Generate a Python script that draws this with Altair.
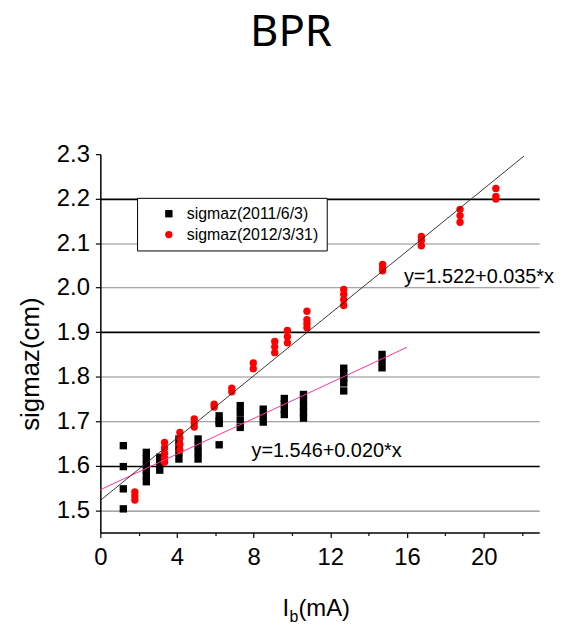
import altair as alt
import pandas as pd

FONT = "Liberation Sans"

chart_title = "BPR"
x_title_main = "I"
x_title_sub = "b"
x_title_unit = "(mA)"
y_title = "sigmaz(cm)"

series_names = ["sigmaz(2011/6/3)", "sigmaz(2012/3/31)"]
series_colors = ["#000000", "#ff0000"]
series_shapes = ["square", "circle"]

# series 1 (2011/6/3): beam current (mA) and measured sigmaz values at each current
s1_current = [1.2, 2.4, 3.1, 4.1, 5.1, 6.2, 7.3, 8.5, 9.6, 10.6, 12.7, 14.7]
s1_sigmaz = [
    [1.645, 1.598, 1.548, 1.503],
    [1.630, 1.616, 1.602, 1.590, 1.577, 1.564],
    [1.619, 1.605, 1.590],
    [1.660, 1.645, 1.630, 1.615],
    [1.660, 1.645, 1.630, 1.615],
    [1.712, 1.700, 1.695, 1.647],
    [1.735, 1.720, 1.703, 1.686],
    [1.727, 1.712, 1.698],
    [1.751, 1.739, 1.727, 1.715],
    [1.760, 1.747, 1.733, 1.720, 1.707],
    [1.819, 1.808, 1.797, 1.786, 1.768],
    [1.850, 1.835, 1.820],
]

# series 2 (2012/3/31)
s2_current = [1.8, 3.35, 4.15, 4.9, 5.94, 6.86, 7.98, 9.1, 9.76, 10.78, 12.7, 14.73, 16.75, 18.77, 20.64]
s2_sigmaz = [
    [1.541, 1.532, 1.523],
    [1.652, 1.640, 1.628, 1.617, 1.608],
    [1.675, 1.662, 1.648, 1.635],
    [1.705, 1.696, 1.687],
    [1.738, 1.732],
    [1.774, 1.766],
    [1.831, 1.818],
    [1.879, 1.867, 1.854],
    [1.904, 1.890, 1.876],
    [1.947, 1.928, 1.919, 1.910],
    [1.996, 1.985, 1.973, 1.960],
    [2.052, 2.045, 2.038],
    [2.115, 2.106, 2.094],
    [2.176, 2.162, 2.147],
    [2.223, 2.205, 2.199],
]

# linear fits printed on the chart
fit1_label = "y=1.546+0.020*x"
fit1_intercept = 1.546
fit1_slope = 0.020
fit1_range = [0.0, 16.0]
fit1_label_pos = [7.89, 1.619]

fit2_label = "y=1.522+0.035*x"
fit2_intercept = 1.522
fit2_slope = 0.035
fit2_range = [0.0, 22.1]
fit2_label_pos = [15.84, 2.011]

x_ticks = [0, 2, 4, 6, 8, 10, 12, 14, 16, 18, 20, 22]
y_ticks = [1.5, 1.55, 1.6, 1.65, 1.7, 1.75, 1.8, 1.85, 1.9, 1.95,
           2.0, 2.05, 2.1, 2.15, 2.2, 2.25, 2.3]
x_domain = [0, 22.9]
y_domain = [1.45, 2.3]

rows = []
for name, cur, sig in [(series_names[0], s1_current, s1_sigmaz),
                       (series_names[1], s2_current, s2_sigmaz)]:
    for c, ys in zip(cur, sig):
        for v in ys:
            rows.append({"current": c, "sigmaz": v, "series": name})
points_df = pd.DataFrame(rows)

fit1_df = pd.DataFrame({"current": fit1_range,
                        "sigmaz": [fit1_intercept + fit1_slope * v for v in fit1_range]})
fit2_df = pd.DataFrame({"current": fit2_range,
                        "sigmaz": [fit2_intercept + fit2_slope * v for v in fit2_range]})
labels_df = pd.DataFrame({"current": [fit1_label_pos[0], fit2_label_pos[0]],
                          "sigmaz": [fit1_label_pos[1], fit2_label_pos[1]],
                          "text": [fit1_label, fit2_label]})

x_scale = alt.Scale(domain=x_domain, nice=False, zero=False)
y_scale = alt.Scale(domain=y_domain, nice=False, zero=False)

is_major_y = "abs(datum.value*10 - round(datum.value*10)) < 0.001"
is_dark_y = "(abs(datum.value-2.2)<0.001 || abs(datum.value-1.9)<0.001 || abs(datum.value-1.6)<0.001)"
is_major_x = "(datum.value % 4 == 0)"

y_axis = alt.Axis(
    values=y_ticks,
    labelExpr=f"({is_major_y}) ? format(datum.value, '.1f') : ''",
    labelOverlap=False, labelFlush=False,
    tickSize={"condition": {"test": is_major_y, "value": 5}, "value": 3},
    grid=True,
    gridColor={"condition": {"test": is_dark_y, "value": "#000000"}, "value": "#8a8a8a"},
    gridWidth={"condition": {"test": is_dark_y, "value": 1.6}, "value": 1.1},
    gridOpacity={"condition": {"test": f"({is_major_y}) && datum.value < 2.25", "value": 1}, "value": 0},
    labelFont=FONT, labelFontSize=24, labelColor="black", labelPadding=6,
    domainColor="black", domainWidth=1.5, tickColor="black", tickWidth=1.2,
    title=y_title, titleFont=FONT, titleFontSize=26, titleFontWeight="normal",
    titleColor="black", titleX=-70, titleY=211, titleAngle=270,
    titleAlign="center", titleBaseline="middle",
)

x_axis = alt.Axis(
    values=x_ticks,
    labelExpr=f"{is_major_x} ? datum.label : ''",
    labelOverlap=False, labelFlush=False,
    tickSize={"condition": {"test": is_major_x, "value": 5}, "value": 3},
    grid=False,
    labelFont=FONT, labelFontSize=24, labelColor="black", labelPadding=8,
    domainColor="black", domainWidth=1.5, tickColor="black", tickWidth=1.2,
    title=None,
)

legend = alt.Legend(
    title=None, orient="none", legendX=37, legendY=44, direction="vertical",
    strokeColor="black", fillColor="white", padding=8, symbolOffset=16,
    labelOffset=10, labelFont=FONT, labelFontSize=16, labelColor="black",
    rowPadding=5, symbolSize=55, symbolStrokeWidth=0, labelLimit=300,
)

points = alt.Chart(points_df).mark_point(filled=True, size=55, opacity=1, strokeWidth=0).encode(
    x=alt.X("current:Q", scale=x_scale, axis=x_axis),
    y=alt.Y("sigmaz:Q", scale=y_scale, axis=y_axis),
    color=alt.Color("series:N", scale=alt.Scale(domain=series_names, range=series_colors), legend=legend),
    shape=alt.Shape("series:N", scale=alt.Scale(domain=series_names, range=series_shapes), legend=legend),
)

line1 = alt.Chart(fit1_df).mark_line(strokeWidth=1).encode(
    x=alt.X("current:Q", scale=x_scale),
    y=alt.Y("sigmaz:Q", scale=y_scale),
    color=alt.value("#ff3399"),
)
line2 = alt.Chart(fit2_df).mark_line(strokeWidth=0.9).encode(
    x=alt.X("current:Q", scale=x_scale),
    y=alt.Y("sigmaz:Q", scale=y_scale),
    color=alt.value("#222222"),
)

eq_text = alt.Chart(labels_df).mark_text(
    align="left", baseline="alphabetic", font=FONT, fontSize=20, color="black"
).encode(
    x=alt.X("current:Q", scale=x_scale),
    y=alt.Y("sigmaz:Q", scale=y_scale),
    text="text:N",
)

xt1 = alt.Chart(pd.DataFrame({"t": [x_title_main]})).mark_text(
    align="left", baseline="alphabetic", font=FONT, fontSize=24, color="black"
).encode(x=alt.value(183.5), y=alt.value(465), text="t:N")
xt2 = alt.Chart(pd.DataFrame({"t": [x_title_sub]})).mark_text(
    align="left", baseline="alphabetic", font=FONT, fontSize=16, color="black"
).encode(x=alt.value(190.5), y=alt.value(471), text="t:N")
xt3 = alt.Chart(pd.DataFrame({"t": [x_title_unit]})).mark_text(
    align="left", baseline="alphabetic", font=FONT, fontSize=24, color="black"
).encode(x=alt.value(199.5), y=alt.value(465), text="t:N")

chart = alt.layer(points, line1, line2, eq_text, xt1, xt2, xt3).properties(
    width=442, height=381,
    title=alt.TitleParams(chart_title, font="Noto Sans", fontSize=44, fontWeight="normal",
                          color="black", anchor="middle", dx=-29, offset=88),
    autosize=alt.AutoSizeParams(type="none"),
    padding={"left": 93, "top": 145, "right": 30, "bottom": 90},
).configure(background="white").configure_view(strokeWidth=0, stroke="transparent")

chart.save("out.html", embed_options={"renderer": "svg", "actions": False})
